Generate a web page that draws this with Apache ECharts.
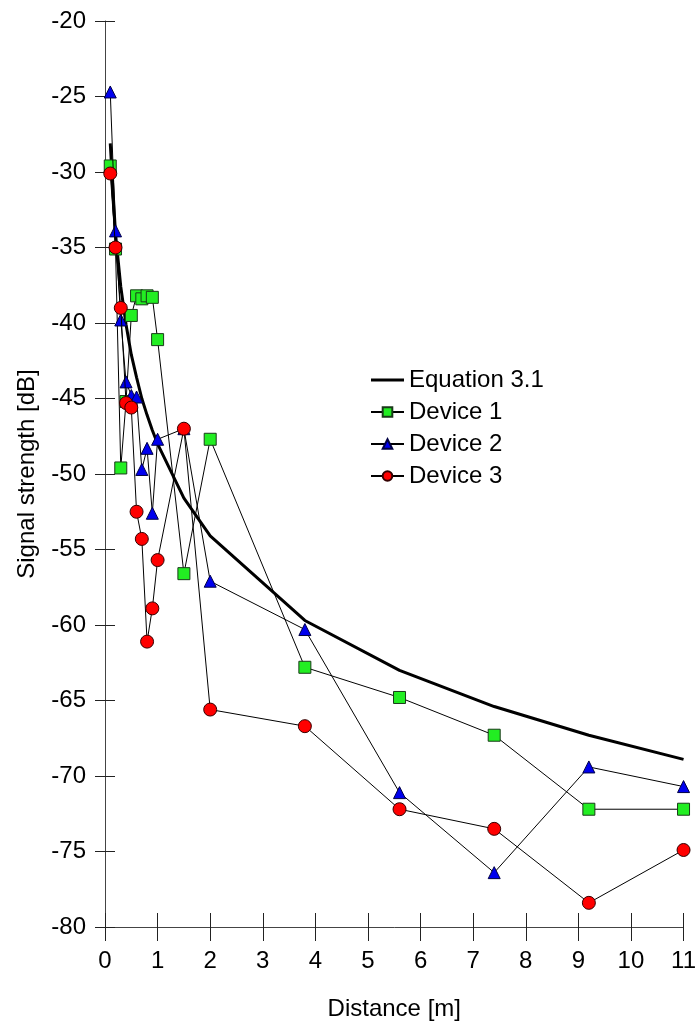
<!DOCTYPE html>
<html>
<head>
<meta charset="utf-8">
<script src="https://cdn.jsdelivr.net/npm/echarts@6/dist/echarts.min.js"></script>
<style>
html,body{margin:0;padding:0;background:#fff;}
#chart{width:699px;height:1026px;}
</style>
</head>
<body>
<div id="chart"></div>
<script>
const distances = [0.1, 0.2, 0.3, 0.4, 0.5, 0.6, 0.7, 0.8, 0.9, 1.0, 1.5, 2.0, 3.8, 5.6, 7.4, 9.2, 11];
const equation = [-28.1, -34.1, -37.6, -40.1, -42.1, -43.6, -45.0, -46.1, -47.1, -48.0, -51.6, -54.1, -59.7, -63.0, -65.4, -67.3, -68.9];
const device1 = [-29.6, -35.1, -49.6, -45.2, -39.5, -38.2, -38.4, -38.2, -38.3, -41.1, -56.6, -47.7, -62.8, -64.8, -67.3, -72.2, -72.2];
const device2 = [-24.7, -33.9, -39.8, -43.9, -44.8, -44.9, -49.7, -48.3, -52.6, -47.7, -47.0, -57.1, -60.3, -71.1, -76.4, -69.4, -70.7];
const device3 = [-30.1, -35.0, -39.0, -45.3, -45.6, -52.5, -54.3, -61.1, -58.9, -55.7, -47.0, -65.6, -66.7, -72.2, -73.5, -78.4, -74.9];
const seriesNames = ['Equation 3.1', 'Device 1', 'Device 2', 'Device 3'];

const pair = arr => distances.map((d, i) => [d, arr[i]]);
const FONT = 'Liberation Sans';
const FS = 24;
const axisColor = '#444';

const chart = echarts.init(document.getElementById('chart'), null, {renderer: 'canvas'});
const baseX = {
  type: 'value', min: 0, max: 11, interval: 1, position: 'bottom',
  splitLine: {show: false},
  axisLine: {show: true, onZero: false, lineStyle: {color: axisColor, width: 1}},
};
const baseY = {
  type: 'value', min: -80, max: -20, interval: 5, position: 'left',
  splitLine: {show: false},
  axisLine: {show: true, onZero: false, lineStyle: {color: axisColor, width: 1}},
};
chart.setOption({
  animation: false,
  backgroundColor: '#fff',
  textStyle: {fontFamily: FONT},
  grid: {left: 105, right: 12, top: 21, bottom: 96, containLabel: false},
  xAxis: [
    Object.assign({}, baseX, {
      name: 'Distance [m]', nameLocation: 'middle', nameGap: 70,
      nameTextStyle: {fontSize: FS, color: '#000', fontFamily: FONT},
      axisTick: {show: true, inside: false, length: 14, lineStyle: {color: '#222'}},
      axisLabel: {fontSize: FS, color: '#000', margin: 22, fontFamily: FONT}
    }),
    Object.assign({}, baseX, {
      axisLine: {show: false},
      axisTick: {show: true, inside: true, length: 14, lineStyle: {color: '#222'}},
      axisLabel: {show: false}
    })
  ],
  yAxis: [
    Object.assign({}, baseY, {
      name: 'Signal strength [dB]', nameLocation: 'middle', nameGap: 66,
      nameTextStyle: {fontSize: FS, color: '#000', fontFamily: FONT},
      axisTick: {show: true, inside: false, length: 10, lineStyle: {color: '#222'}},
      axisLabel: {fontSize: FS, color: '#000', margin: 19, fontFamily: FONT}
    }),
    Object.assign({}, baseY, {
      axisLine: {show: false},
      axisTick: {show: true, inside: true, length: 10, lineStyle: {color: '#222'}},
      axisLabel: {show: false}
    })
  ],
  legend: {
    orient: 'vertical', left: 370, top: 368, padding: 0,
    itemWidth: 33, itemHeight: 12, itemGap: 8,
    symbolKeepAspect: true,
    textStyle: {fontSize: FS, color: '#000', fontFamily: FONT, lineHeight: 24},
    data: [
      {name: seriesNames[0], icon: 'path://M0,0 L32,0 L32,3 L0,3 Z', itemStyle: {color: '#000'}},
      seriesNames[1], seriesNames[2], seriesNames[3]
    ]
  },
  series: [
    {
      name: seriesNames[0], type: 'line', data: pair(equation),
      showSymbol: false, symbol: 'none',
      lineStyle: {color: '#000', width: 3}, itemStyle: {color: '#000'}, z: 2
    },
    {
      name: seriesNames[1], type: 'line', data: pair(device1),
      symbol: 'rect', symbolSize: 12,
      lineStyle: {color: '#000', width: 1},
      itemStyle: {color: '#22ee22', borderColor: '#1a3a1a', borderWidth: 1}, z: 3
    },
    {
      name: seriesNames[2], type: 'line', data: pair(device2),
      symbol: 'triangle', symbolSize: 12,
      lineStyle: {color: '#000', width: 1},
      itemStyle: {color: '#0000ee', borderColor: '#000044', borderWidth: 1}, z: 4
    },
    {
      name: seriesNames[3], type: 'line', data: pair(device3),
      symbol: 'circle', symbolSize: 13,
      lineStyle: {color: '#000', width: 1},
      itemStyle: {color: '#ff0000', borderColor: '#330000', borderWidth: 1}, z: 5
    }
  ]
});
</script>
</body>
</html>
